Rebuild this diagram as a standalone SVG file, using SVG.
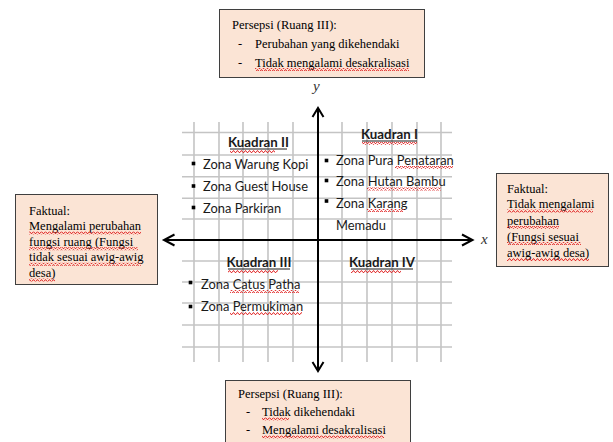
<svg xmlns="http://www.w3.org/2000/svg" width="613" height="442" viewBox="0 0 613 442">
  <style>
    .box { fill: #fbe4d5; stroke: #3f3f3f; stroke-width: 1; }
    .serif { font-family: "Liberation Serif", "Times New Roman", serif; font-size: 12.5px; fill: #000; }
    .sans { font-family: Lato, "Liberation Sans", sans-serif; font-size: 12.9px; fill: #1a1a1a; }
    .head { font-weight: bold; text-anchor: middle; font-size: 13.3px; }
    .grid line { stroke: #c4c4c4; stroke-width: 1.6; }
    .axis { stroke: #000; stroke-width: 2; fill: none; }
    .lbl { font-family: "Liberation Serif", serif; font-style: italic; font-size: 15px; fill: #333; }
    .wave { fill: url(#wave); }
    .ul { stroke: #1a1a1a; stroke-width: 1; }
  </style>
  <defs>
    <pattern id="wave" x="0" y="0" width="4" height="3" patternUnits="userSpaceOnUse">
      <path d="M0,2.5 L1,0.8 L2,0.8 L3,2.5 L4,2.5" fill="none" stroke="#e02020" stroke-width="0.9"/>
    </pattern>
    <rect id="bul" x="-1.8" y="-1.8" width="3.6" height="3.6" fill="#000"/>
  </defs>
  <rect width="613" height="442" fill="#fff"/>

  <g id="grid" class="grid">
    <line x1="194" y1="122" x2="194" y2="362"/>
    <line x1="219" y1="122" x2="219" y2="362"/>
    <line x1="243" y1="122" x2="243" y2="362"/>
    <line x1="268" y1="122" x2="268" y2="362"/>
    <line x1="293" y1="122" x2="293" y2="362"/>
    <line x1="342" y1="122" x2="342" y2="362"/>
    <line x1="367" y1="122" x2="367" y2="362"/>
    <line x1="392" y1="122" x2="392" y2="362"/>
    <line x1="417" y1="122" x2="417" y2="362"/>
    <line x1="441" y1="122" x2="441" y2="362"/>
    <line x1="182" y1="132.5" x2="452" y2="132.5"/>
    <line x1="182" y1="155" x2="452" y2="155"/>
    <line x1="182" y1="176.7" x2="452" y2="176.7"/>
    <line x1="182" y1="198.3" x2="452" y2="198.3"/>
    <line x1="182" y1="219" x2="452" y2="219"/>
    <line x1="182" y1="261" x2="452" y2="261"/>
    <line x1="182" y1="282" x2="452" y2="282"/>
    <line x1="182" y1="303" x2="452" y2="303"/>
    <line x1="182" y1="325" x2="452" y2="325"/>
    <line x1="182" y1="347" x2="452" y2="347"/>
  </g>

  <g id="connectors">
    <path class="axis" d="M318,108 V371 M312.5,117 L318,108 L323.5,117 M312.5,362 L318,371 L323.5,362"/>
    <path class="axis" d="M164,240 H472.5 M174.5,234.5 L164,240 L174.5,245.5 M462,234.5 L472.5,240 L462,245.5"/>
    <text class="lbl" x="313" y="91">y</text>
    <text class="lbl" x="481" y="244">x</text>
  </g>

  <g id="persepsi-top">
    <rect class="box" x="219.5" y="9.5" width="205" height="68"/>
    <text class="serif" x="232" y="29">Persepsi (Ruang III):</text>
    <text class="serif" x="238" y="47.5">-</text>
    <text class="serif" x="255" y="47.5">Perubahan yang dikehendaki</text>
    <text class="serif" x="238" y="66.5">-</text>
    <text class="serif" x="255" y="66.5">Tidak mengalami desakralisasi</text>
    <rect class="wave" x="255" y="68" width="154" height="3"/>
  </g>

  <g id="faktual-left">
    <rect class="box" x="15.5" y="194.5" width="142" height="90"/>
    <text class="serif" x="29" y="214.5">Faktual:</text>
    <text class="serif" x="29" y="230">Mengalami perubahan</text>
    <text class="serif" x="29" y="245.7">fungsi ruang (Fungsi</text>
    <text class="serif" x="29" y="261.3">tidak sesuai awig-awig</text>
    <text class="serif" x="29" y="277">desa)</text>
    <rect class="wave" x="29" y="231.5" width="112" height="3"/>
    <rect class="wave" x="29" y="247.2" width="109" height="3"/>
    <rect class="wave" x="29" y="262.8" width="112" height="3"/>
    <rect class="wave" x="29" y="278.5" width="26" height="3"/>
  </g>

  <g id="faktual-right">
    <rect class="box" x="496.5" y="173.5" width="112" height="93"/>
    <text class="serif" x="507" y="192.5">Faktual:</text>
    <text class="serif" x="507" y="208">Tidak mengalami</text>
    <text class="serif" x="507" y="224.5">perubahan</text>
    <text class="serif" x="507" y="240.5">(Fungsi sesuai</text>
    <text class="serif" x="507" y="256.5">awig-awig desa)</text>
    <rect class="wave" x="507" y="209.5" width="86" height="3"/>
    <rect class="wave" x="507" y="226" width="52" height="3"/>
    <rect class="wave" x="507" y="242" width="74" height="3"/>
    <rect class="wave" x="507" y="258" width="82" height="3"/>
  </g>

  <g id="persepsi-bottom">
    <rect class="box" x="225.5" y="380.5" width="185" height="62"/>
    <text class="serif" x="238" y="398">Persepsi (Ruang III):</text>
    <text class="serif" x="246" y="416">-</text>
    <text class="serif" x="262" y="416">Tidak dikehendaki</text>
    <text class="serif" x="246" y="434">-</text>
    <text class="serif" x="262" y="434">Mengalami desakralisasi</text>
    <rect class="wave" x="262" y="417.5" width="27" height="3"/>
    <rect class="wave" x="262" y="435.5" width="122" height="3"/>
  </g>

  <g id="kuadran-1">
    <text class="sans head" x="389.5" y="139">Kuadran I</text>
    <line class="ul" x1="362" y1="141" x2="417" y2="141"/>
    <rect class="wave" x="362" y="142" width="55" height="3"/>
    <use href="#bul" x="326.5" y="160.5"/>
    <text class="sans" x="336" y="164.5">Zona Pura Penataran</text>
    <rect class="wave" x="395" y="166" width="58" height="3"/>
    <use href="#bul" x="326.5" y="180.5"/>
    <text class="sans" x="336" y="186">Zona Hutan Bambu</text>
    <rect class="wave" x="367" y="187.5" width="74" height="3"/>
    <use href="#bul" x="326.5" y="201"/>
    <text class="sans" x="336" y="207.5">Zona Karang</text>
    <rect class="wave" x="367" y="209" width="37" height="3"/>
    <text class="sans" x="336" y="229.5">Memadu</text>
  </g>

  <g id="kuadran-2">
    <text class="sans head" x="258.5" y="147">Kuadran II</text>
    <line class="ul" x1="230" y1="149" x2="287" y2="149"/>
    <rect class="wave" x="230" y="150" width="45" height="3"/>
    <use href="#bul" x="193.5" y="163.5"/>
    <text class="sans" x="203" y="168.5">Zona Warung Kopi</text>
    <use href="#bul" x="193.5" y="186"/>
    <text class="sans" x="203" y="191">Zona Guest House</text>
    <use href="#bul" x="193.5" y="207.5"/>
    <text class="sans" x="203" y="212.5">Zona Parkiran</text>
  </g>

  <g id="kuadran-3">
    <text class="sans head" x="259" y="267">Kuadran III</text>
    <line class="ul" x1="228" y1="269" x2="290" y2="269"/>
    <rect class="wave" x="228" y="270" width="50" height="3"/>
    <use href="#bul" x="190.5" y="282.5"/>
    <text class="sans" x="201" y="288.5">Zona Catus Patha</text>
    <rect class="wave" x="230" y="290" width="69" height="3"/>
    <use href="#bul" x="190.5" y="306.5"/>
    <text class="sans" x="201" y="310.5">Zona Permukiman</text>
    <rect class="wave" x="230" y="312" width="72" height="3"/>
  </g>

  <g id="kuadran-4">
    <text class="sans head" x="382" y="267">Kuadran IV</text>
    <line class="ul" x1="351" y1="269" x2="413" y2="269"/>
    <rect class="wave" x="351" y="270" width="50" height="3"/>
  </g>
</svg>
